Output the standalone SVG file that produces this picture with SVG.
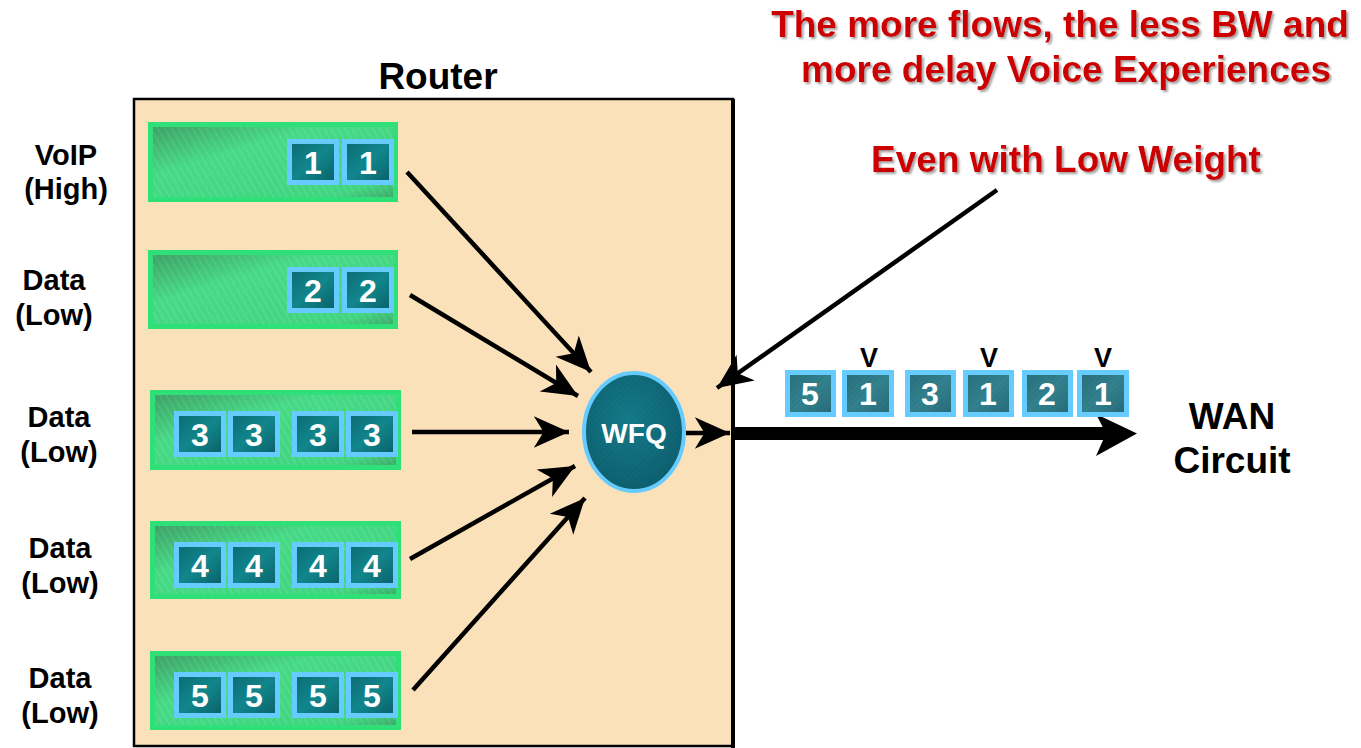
<svg xmlns="http://www.w3.org/2000/svg" width="1361" height="748" viewBox="0 0 1361 748">
  <defs>
    <style>
      .lbl { font-family: "Liberation Sans", Arial, sans-serif; font-weight: bold; fill: #000; text-anchor: middle; }
      .side { font-size: 29px; }
      .red { font-family: "Liberation Sans", Arial, sans-serif; font-weight: bold; fill: #cc0000; text-anchor: middle; font-size: 37px; filter: url(#shadow); }
      .queue { fill: url(#qGrad); stroke: #2fdf78; stroke-width: 5; }
      .qtex { fill: url(#hatch); stroke: none; }
      .pkt { fill: url(#pGrad); stroke: #66ccff; stroke-width: 5; }
      .opkt { fill: url(#oGrad); stroke: #66ccff; stroke-width: 5; }
      .ptex { fill: url(#cross); stroke: none; }
      .num { font-family: "Liberation Sans", Arial, sans-serif; font-weight: bold; font-size: 32px; fill: #fff; text-anchor: middle; }
      .vmark { font-family: "Liberation Sans", Arial, sans-serif; font-weight: bold; font-size: 27px; fill: #000; text-anchor: middle; }
      .flow { stroke: #000; stroke-width: 4.5; fill: none; marker-end: url(#head); }
    </style>
    <linearGradient id="qGrad" x1="0" y1="0" x2="1" y2="1">
      <stop offset="0" stop-color="#3e9e65"/>
      <stop offset="0.35" stop-color="#46da86"/>
      <stop offset="0.85" stop-color="#42d581"/>
      <stop offset="1" stop-color="#3ca466"/>
    </linearGradient>
    <linearGradient id="pGrad" x1="0" y1="0" x2="1" y2="1">
      <stop offset="0" stop-color="#0b6a72"/>
      <stop offset="0.5" stop-color="#11868c"/>
      <stop offset="1" stop-color="#0a5f68"/>
    </linearGradient>
    <linearGradient id="oGrad" x1="0" y1="0" x2="1" y2="1">
      <stop offset="0" stop-color="#286f7c"/>
      <stop offset="0.5" stop-color="#33828f"/>
      <stop offset="1" stop-color="#276b78"/>
    </linearGradient>
    <radialGradient id="wGrad" cx="0.45" cy="0.4" r="0.65">
      <stop offset="0" stop-color="#147c8a"/>
      <stop offset="1" stop-color="#0d5e6e"/>
    </radialGradient>
    <pattern id="hatch" width="6" height="6" patternUnits="userSpaceOnUse" patternTransform="rotate(-30)">
      <line x1="0" y1="0" x2="0" y2="6" stroke="#ffffff" stroke-opacity="0.12" stroke-width="2"/>
    </pattern>
    <pattern id="cross" width="4" height="4" patternUnits="userSpaceOnUse" patternTransform="rotate(45)">
      <line x1="0" y1="0" x2="0" y2="4" stroke="#000000" stroke-opacity="0.12" stroke-width="1"/>
    </pattern>
    <filter id="shadow" x="-5%" y="-20%" width="110%" height="140%">
      <feDropShadow dx="2" dy="2" stdDeviation="0.8" flood-color="#8a8a8a" flood-opacity="0.8"/>
    </filter>
    <marker id="head" markerUnits="userSpaceOnUse" markerWidth="40" markerHeight="40" viewBox="-31 -15 33 30" refX="0" refY="0" orient="auto">
      <path d="M0,0 L-29,-13 L-21,0 L-29,13 Z" fill="#000"/>
    </marker>
  </defs>

  <rect x="0" y="0" width="1361" height="748" fill="#ffffff"/>

  <!-- headline notes -->
  <g id="notes">
    <text class="red" x="1060" y="37">The more flows, the less BW and</text>
    <text class="red" x="1066" y="82">more delay Voice Experiences</text>
    <text class="red" x="1066" y="172">Even with Low Weight</text>
  </g>

  <!-- router enclosure -->
  <g id="router">
    <text class="lbl" x="438" y="89" font-size="37">Router</text>
    <rect x="134" y="99" width="599" height="647" fill="#fbe1b9" stroke="#000" stroke-width="2.5"/>
    <line x1="733" y1="99" x2="733" y2="748" stroke="#000" stroke-width="4"/>
  </g>

  <!-- flow labels -->
  <g id="flow-labels">
    <text class="lbl side" x="66" y="165">VoIP</text>
    <text class="lbl side" x="66" y="199">(High)</text>
    <text class="lbl side" x="54" y="290">Data</text>
    <text class="lbl side" x="54" y="325">(Low)</text>
    <text class="lbl side" x="59" y="427">Data</text>
    <text class="lbl side" x="59" y="462">(Low)</text>
    <text class="lbl side" x="60" y="558">Data</text>
    <text class="lbl side" x="60" y="593">(Low)</text>
    <text class="lbl side" x="60" y="688">Data</text>
    <text class="lbl side" x="60" y="723">(Low)</text>
  </g>

  <!-- queue 1 : VoIP -->
  <g id="queue1">
    <rect class="queue" x="150.5" y="124.5" width="245" height="75"/>
    <rect class="qtex" x="153" y="127" width="240" height="70"/>
    <rect class="pkt" x="289.5" y="141.5" width="47" height="41"/>
    <rect class="pkt" x="344.5" y="141.5" width="47" height="41"/>
    <text class="num" x="313" y="174">1</text>
    <text class="num" x="368" y="174">1</text>
  </g>

  <!-- queue 2 -->
  <g id="queue2">
    <rect class="queue" x="150.5" y="252.5" width="245" height="74"/>
    <rect class="qtex" x="153" y="255" width="240" height="69"/>
    <rect class="pkt" x="289.5" y="269.5" width="47" height="41"/>
    <rect class="pkt" x="344.5" y="269.5" width="47" height="41"/>
    <text class="num" x="313" y="302">2</text>
    <text class="num" x="368" y="302">2</text>
  </g>

  <!-- queue 3 -->
  <g id="queue3">
    <rect class="queue" x="152.5" y="392.5" width="246" height="75"/>
    <rect class="qtex" x="155" y="395" width="241" height="70"/>
    <rect class="pkt" x="176.5" y="413.5" width="47" height="41"/>
    <rect class="pkt" x="230.5" y="413.5" width="47" height="41"/>
    <rect class="pkt" x="294.5" y="413.5" width="47" height="41"/>
    <rect class="pkt" x="348.5" y="413.5" width="47" height="41"/>
    <text class="num" x="200" y="446">3</text>
    <text class="num" x="254" y="446">3</text>
    <text class="num" x="318" y="446">3</text>
    <text class="num" x="372" y="446">3</text>
  </g>

  <!-- queue 4 -->
  <g id="queue4">
    <rect class="queue" x="152.5" y="523.5" width="246" height="73"/>
    <rect class="qtex" x="155" y="526" width="241" height="68"/>
    <rect class="pkt" x="176.5" y="544.5" width="47" height="41"/>
    <rect class="pkt" x="230.5" y="544.5" width="47" height="41"/>
    <rect class="pkt" x="294.5" y="544.5" width="47" height="41"/>
    <rect class="pkt" x="348.5" y="544.5" width="47" height="41"/>
    <text class="num" x="200" y="577">4</text>
    <text class="num" x="254" y="577">4</text>
    <text class="num" x="318" y="577">4</text>
    <text class="num" x="372" y="577">4</text>
  </g>

  <!-- queue 5 -->
  <g id="queue5">
    <rect class="queue" x="152.5" y="653.5" width="246" height="74"/>
    <rect class="qtex" x="155" y="656" width="241" height="69"/>
    <rect class="pkt" x="176.5" y="674.5" width="47" height="41"/>
    <rect class="pkt" x="230.5" y="674.5" width="47" height="41"/>
    <rect class="pkt" x="294.5" y="674.5" width="47" height="41"/>
    <rect class="pkt" x="348.5" y="674.5" width="47" height="41"/>
    <text class="num" x="200" y="707">5</text>
    <text class="num" x="254" y="707">5</text>
    <text class="num" x="318" y="707">5</text>
    <text class="num" x="372" y="707">5</text>
  </g>

  <!-- scheduler -->
  <g id="wfq">
    <ellipse cx="634" cy="432" rx="50" ry="59" fill="url(#wGrad)" stroke="#66ccff" stroke-width="4"/>
    <ellipse cx="634" cy="432" rx="48" ry="57" fill="url(#cross)"/>
    <text x="634" y="443" font-family="'Liberation Sans', Arial, sans-serif" font-weight="bold" font-size="28" fill="#fff" text-anchor="middle">WFQ</text>
  </g>

  <!-- connectors -->
  <g id="connectors">
    <line class="flow" x1="407" y1="172" x2="591" y2="372"/>
    <line class="flow" x1="410" y1="295" x2="578" y2="396"/>
    <line class="flow" x1="412" y1="432" x2="569" y2="432"/>
    <line class="flow" x1="410" y1="559" x2="575" y2="466"/>
    <line class="flow" x1="413" y1="690" x2="585" y2="498"/>
    <line class="flow" x1="686" y1="433" x2="730" y2="433"/>
    <line class="flow" x1="997" y1="190" x2="717" y2="388"/>
    <!-- WAN trunk -->
    <line x1="733" y1="433.5" x2="1110" y2="433.5" stroke="#000" stroke-width="13"/>
    <path d="M1137,433.5 L1096,414 L1106,433.5 L1096,456 Z" fill="#000"/>
  </g>

  <!-- serialized output -->
  <g id="output">
    <rect class="opkt" x="787.5" y="372.5" width="46" height="42"/>
    <rect class="opkt" x="844.5" y="372.5" width="47" height="42"/>
    <rect class="opkt" x="907.5" y="372.5" width="46" height="42"/>
    <rect class="opkt" x="965.5" y="372.5" width="46" height="42"/>
    <rect class="opkt" x="1024.5" y="372.5" width="46" height="42"/>
    <rect class="opkt" x="1079.5" y="372.5" width="47" height="42"/>
    <rect class="ptex" x="790" y="375" width="41" height="37"/>
    <rect class="ptex" x="847" y="375" width="42" height="37"/>
    <rect class="ptex" x="910" y="375" width="41" height="37"/>
    <rect class="ptex" x="968" y="375" width="41" height="37"/>
    <rect class="ptex" x="1027" y="375" width="41" height="37"/>
    <rect class="ptex" x="1082" y="375" width="42" height="37"/>
    <text class="num" x="810" y="405">5</text>
    <text class="num" x="868" y="405">1</text>
    <text class="num" x="930" y="405">3</text>
    <text class="num" x="988" y="405">1</text>
    <text class="num" x="1047" y="405">2</text>
    <text class="num" x="1103" y="405">1</text>
    <text class="vmark" x="869" y="367">V</text>
    <text class="vmark" x="989" y="367">V</text>
    <text class="vmark" x="1103" y="367">V</text>
  </g>

  <g id="wan">
    <text class="lbl" x="1232" y="429" font-size="37">WAN</text>
    <text class="lbl" x="1232" y="473" font-size="37">Circuit</text>
  </g>
</svg>
